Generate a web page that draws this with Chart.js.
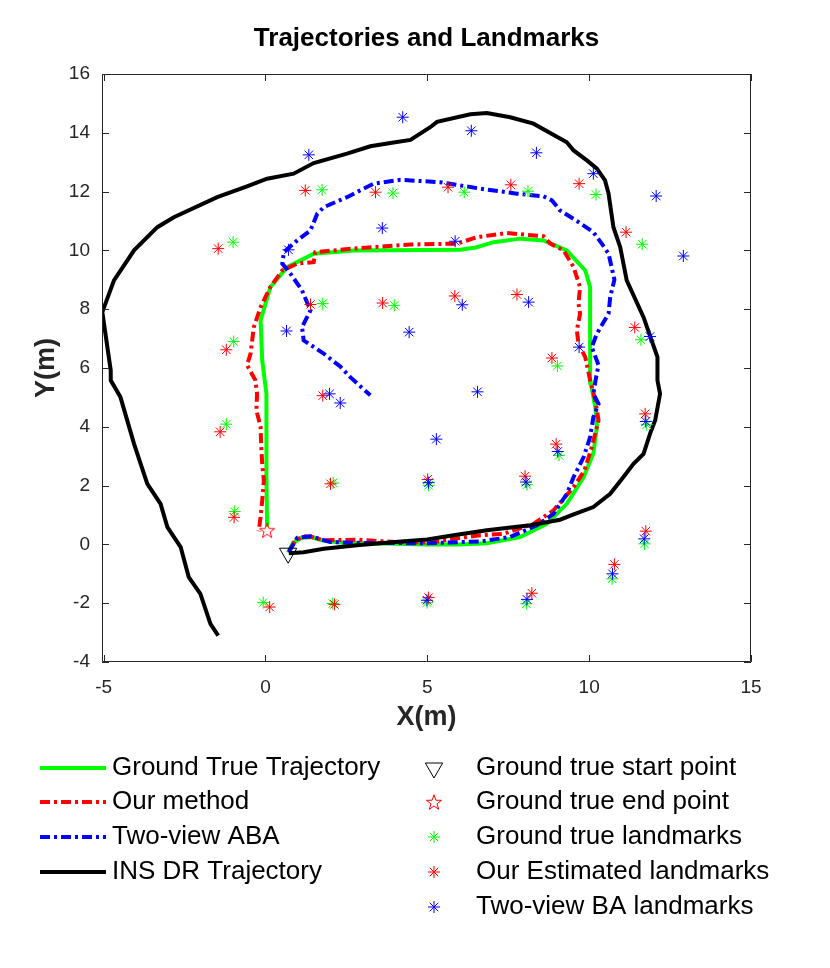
<!DOCTYPE html>
<html>
<head>
<meta charset="utf-8">
<title>Trajectories and Landmarks</title>
<script src="https://cdn.jsdelivr.net/npm/chart.js@4.4.0/dist/chart.umd.min.js"></script>
<style>
    html, body { margin: 0; padding: 0; background: #fff; }
    #wrap { width: 830px; height: 968px; }
</style>
</head>
<body>
<div id="wrap"><canvas id="trajChart" width="830" height="968"></canvas></div>
<script>
// axis ticks
const xTickValues = [-5, 0, 5, 10, 15];
const yTickValues = [-4, -2, 0, 2, 4, 6, 8, 10, 12, 14, 16];

// trajectories, [x, y] in metres
const gtTrajectory = [[0.7,-0.28],[0.85,0.05],[1.1,0.22],[1.4,0.25],[1.8,0.12],[2.5,0.05],[4,0.02],[5,0],[6,0],[6.84,0.04],[7.87,0.25],[8.69,0.7],[9.31,1.38],[9.83,2.29],[10.13,3.1],[10.24,4.0],[10.2,4.6],[10.05,5.5],[10.03,6.5],[10.03,8.75],[9.88,9.32],[9.31,10.0],[8.59,10.34],[7.87,10.4],[7.05,10.28],[6.5,10.1],[6.02,10.02],[2.73,10.0],[1.49,9.89],[0.67,9.43],[0.15,8.75],[-0.15,7.62],[-0.1,6.26],[0.03,5.12],[0.03,2.29],[0.05,0.6]];
const ourTrajectory = [[0.75,-0.2],[0.9,0.1],[1.15,0.28],[1.45,0.25],[1.8,0.14],[2.83,0.16],[4,0.08],[5.09,0.06],[5.81,0.19],[6.64,0.31],[7.36,0.36],[8.28,0.7],[8.9,1.16],[9.52,1.95],[9.85,2.5],[10.08,3.3],[10.24,4.0],[10.29,4.22],[10.19,4.9],[10.03,5.58],[9.88,6.37],[9.67,6.83],[9.62,7.28],[9.72,7.85],[9.67,8.19],[9.72,8.75],[9.52,9.43],[9.21,10.0],[8.8,10.23],[8.59,10.48],[7.46,10.59],[6.53,10.45],[5.92,10.23],[4.48,10.2],[2.9,10.08],[1.54,9.94],[1.49,9.6],[0.98,9.55],[0.52,9.32],[0.15,8.75],[-0.15,8.07],[-0.36,7.39],[-0.46,6.49],[-0.57,6.1],[-0.31,5.58],[-0.26,5.12],[-0.28,4.56],[-0.15,3.99],[-0.13,3.31],[-0.1,2.74],[-0.05,2.18],[-0.1,1.5],[-0.15,0.93],[-0.21,0.45]];
const abaTrajectory = [[0.72,-0.26],[0.98,0.22],[1.39,0.28],[2.0,0.08],[3,0.05],[5,0.04],[6.64,0.1],[7.56,0.25],[8.39,0.65],[8.9,1.04],[9.31,1.72],[9.52,2.29],[9.83,2.97],[10.03,3.65],[10.13,4.33],[10.29,4.78],[10.13,5.12],[10.2,5.6],[10.29,6.1],[10.08,6.71],[10.24,7.17],[10.6,7.85],[10.65,8.41],[10.78,9.0],[10.6,9.89],[10.39,10.23],[10.13,10.62],[9.62,11.0],[9.1,11.36],[8.85,11.7],[8.59,11.84],[7.77,11.93],[6.64,12.1],[5.4,12.32],[4.17,12.4],[3.34,12.27],[3.03,12.1],[2.52,11.81],[1.8,11.47],[1.6,11.25],[1.39,10.68],[0.98,10.34],[0.57,9.94],[0.52,9.55],[0.77,9.21],[1.13,8.64],[1.39,7.96],[1.13,7.39],[1.18,6.94],[1.8,6.49],[2.31,6.05],[2.62,5.69],[3.24,5.07]];
const insTrajectory = [[0.72,-0.3],[1.18,-0.27],[1.8,-0.15],[2.83,-0.03],[4,0.08],[5,0.17],[5.81,0.31],[6.84,0.48],[8.18,0.65],[9.1,0.84],[9.52,1.02],[10.13,1.27],[10.65,1.72],[11.06,2.29],[11.37,2.74],[11.68,3.08],[11.88,3.76],[12.04,4.22],[12.19,5.12],[12.11,5.58],[12.11,6.37],[11.93,6.94],[11.68,7.73],[11.16,8.98],[10.96,10.11],[10.75,10.79],[10.6,11.93],[10.49,12.38],[10.24,12.78],[9.93,13.06],[9.52,13.4],[9.31,13.68],[8.28,14.31],[7.56,14.53],[6.84,14.67],[6.33,14.63],[5.3,14.37],[5.09,14.19],[4.48,13.76],[3.86,13.65],[3.24,13.54],[2.52,13.29],[1.49,12.97],[0.87,12.61],[0.05,12.44],[-0.57,12.18],[-1.49,11.81],[-2.83,11.13],[-3.34,10.79],[-4.06,10.0],[-4.68,8.98],[-5.04,7.9],[-4.78,5.92],[-4.78,5.58],[-4.48,5.01],[-4.06,3.42],[-3.65,2.06],[-3.24,1.38],[-3.03,0.59],[-2.62,-0.09],[-2.37,-1.11],[-2.01,-1.68],[-1.70,-2.70],[-1.46,-3.1]];

const startPoint = [[0.7, -0.3]];
const endPoint = [[0.05, 0.48]];

// landmarks
const gtLandmarks = [[1.75,12.06],[3.94,11.95],[6.14,11.98],[8.11,12.01],[10.21,11.9],[-1.0,10.28],[11.64,10.21],[1.77,8.19],[3.98,8.13],[-0.98,6.9],[11.6,6.96],[9.02,6.07],[-1.21,4.09],[11.78,4.07],[9.07,3.03],[2.09,2.09],[5.04,2.01],[8.08,2.03],[-0.95,1.12],[11.71,0.02],[10.71,-1.17],[-0.07,-1.98],[2.08,-2.01],[4.99,-1.98],[8.06,-2.02]];
const ourLandmarks = [[1.23,12.04],[3.4,11.98],[5.64,12.15],[7.58,12.23],[9.69,12.27],[-1.46,10.06],[11.14,10.62],[1.39,8.16],[3.62,8.21],[5.85,8.45],[7.77,8.5],[-1.21,6.62],[11.41,7.38],[8.85,6.34],[1.77,5.06],[-1.4,3.83],[11.73,4.44],[8.98,3.41],[2.01,2.06],[5.01,2.21],[8.02,2.32],[-0.97,0.92],[11.75,0.45],[10.78,-0.68],[0.13,-2.13],[2.13,-2.04],[5.04,-1.81],[8.23,-1.66]];
const baLandmarks = [[4.24,14.53],[1.34,13.25],[6.36,14.07],[8.37,13.32],[10.13,12.61],[12.07,11.85],[3.61,10.76],[0.71,10.02],[5.86,10.31],[12.91,9.81],[0.65,7.26],[4.44,7.22],[6.08,8.15],[8.13,8.24],[11.88,7.07],[9.69,6.71],[1.98,5.12],[2.31,4.81],[6.55,5.19],[5.28,3.58],[9.03,3.16],[11.75,4.18],[5.04,2.1],[8.05,2.12],[11.7,0.19],[10.72,-1.0],[4.99,-1.9],[8.08,-1.87]];

const axisColor = '#262626';
const fontFamily = '"Liberation Sans", Arial, Helvetica, sans-serif';
const dashDot = [10, 4, 3, 4];

function toPoints(pairs) {
    return pairs.map(p => ({ x: p[0], y: p[1] }));
}

// outlined pentagram for the end point (no built-in style for it)
function makePentagram(size, color) {
    const c = document.createElement('canvas');
    c.width = size; c.height = size;
    const g = c.getContext('2d');
    const cx = size / 2, cy = size / 2 + 0.8, rOut = size / 2 - 1, rIn = rOut * 0.4;
    g.beginPath();
    for (let i = 0; i < 10; i++) {
        const r = i % 2 === 0 ? rOut : rIn;
        const a = -Math.PI / 2 + i * Math.PI / 5;
        const px = cx + r * Math.cos(a), py = cy + r * Math.sin(a);
        if (i === 0) g.moveTo(px, py); else g.lineTo(px, py);
    }
    g.closePath();
    g.strokeStyle = color;
    g.lineWidth = 1;
    g.stroke();
    return c;
}
const pentagram = makePentagram(18, '#ff0000');

function lineSet(label, data, color, dash, order) {
    return {
        label: label, data: toPoints(data), showLine: true, borderColor: color,
        backgroundColor: color, borderWidth: 4, borderDash: dash, pointRadius: 0,
        tension: 0, order: order, legendColumn: 0
    };
}
function markerSet(label, data, color, style, radius, rotation, order) {
    return {
        label: label, data: toPoints(data), showLine: false, borderColor: color,
        backgroundColor: 'rgba(0,0,0,0)', borderWidth: 1, pointStyle: style,
        pointRadius: radius, pointRotation: rotation, pointHoverRadius: radius, order: order, legendColumn: 1
    };
}

const datasets = [
    lineSet('Ground True Trajectory', gtTrajectory, '#00ff00', [], 9),
    lineSet('Our method', ourTrajectory, '#ff0000', dashDot, 8),
    lineSet('Two-view ABA', abaTrajectory, '#0000ff', dashDot, 7),
    lineSet('INS DR Trajectory', insTrajectory, '#000000', [], 6),
    markerSet('Ground true start point', startPoint, '#000000', 'triangle', 10, 180, 5),
    markerSet('Ground true end point', endPoint, '#ff0000', pentagram, 9, 0, 4),
    markerSet('Ground true landmarks', gtLandmarks, '#00ff00', 'star', 6, 0, 3),
    markerSet('Our Estimated landmarks', ourLandmarks, '#ff0000', 'star', 6, 0, 2),
    markerSet('Two-view BA landmarks', baLandmarks, '#0000ff', 'star', 6, 0, 1)
];

// MATLAB style box with inward ticks on every side
const boxPlugin = {
    id: 'boxPlugin',
    afterDatasetsDraw(chart) {
        const { ctx, chartArea: a, scales } = chart;
        const tick = 7;
        ctx.save();
        ctx.strokeStyle = axisColor;
        ctx.lineWidth = 1;
        ctx.beginPath();
        ctx.rect(a.left + 0.5, a.top + 0.5, a.right - a.left - 1, a.bottom - a.top - 1);
        xTickValues.forEach(v => {
            const px = Math.round(scales.x.getPixelForValue(v)) + 0.5;
            ctx.moveTo(px, a.bottom); ctx.lineTo(px, a.bottom - tick);
            ctx.moveTo(px, a.top); ctx.lineTo(px, a.top + tick);
        });
        yTickValues.forEach(v => {
            const py = Math.round(scales.y.getPixelForValue(v)) + 0.5;
            ctx.moveTo(a.left, py); ctx.lineTo(a.left + tick, py);
            ctx.moveTo(a.right, py); ctx.lineTo(a.right - tick, py);
        });
        ctx.stroke();
        ctx.restore();
    }
};

// two column legend under the axes
const legendPlugin = {
    id: 'twoColLegend',
    afterDraw(chart) {
        const ctx = chart.ctx;
        const rowY = [768, 802, 837, 872, 907];
        const cols = [
            { sampleX: 40, sampleW: 66, textX: 112 },
            { sampleX: 434, sampleW: 0, textX: 476 }
        ];
        const counters = [0, 0];
        ctx.save();
        ctx.font = '26px ' + fontFamily;
        ctx.textBaseline = 'middle';
        ctx.textAlign = 'left';
        chart.data.datasets.forEach(ds => {
            const col = cols[ds.legendColumn];
            const y = rowY[counters[ds.legendColumn]++];
            ctx.strokeStyle = ds.borderColor;
            ctx.lineWidth = ds.borderWidth;
            if (ds.legendColumn === 0) {
                ctx.setLineDash(ds.borderDash);
                ctx.beginPath();
                ctx.moveTo(col.sampleX, y);
                ctx.lineTo(col.sampleX + col.sampleW, y);
                ctx.stroke();
                ctx.setLineDash([]);
            } else {
                ctx.fillStyle = 'rgba(0,0,0,0)';
                Chart.helpers.drawPoint(ctx, {
                    pointStyle: ds.pointStyle, rotation: ds.pointRotation,
                    radius: ds.pointRadius, borderWidth: ds.borderWidth
                }, col.sampleX, y);
            }
            ctx.fillStyle = '#000';
            ctx.fillText(ds.label, col.textX, y);
        });
        ctx.restore();
    }
};

const ctx = document.getElementById('trajChart').getContext('2d');
const trajChart = new Chart(ctx, {
    type: 'scatter',
    data: { datasets: datasets },
    options: {
        responsive: false,
        animation: false,
        events: [],
        layout: { padding: { left: 0, right: 79, top: 0, bottom: 226 } },
        plugins: {
            legend: { display: false },
            tooltip: { enabled: false },
            title: {
                display: true,
                fullSize: false,
                text: 'Trajectories and Landmarks',
                color: '#000',
                font: { family: fontFamily, size: 26, weight: 'bold', lineHeight: 1.2 },
                padding: { top: 23, bottom: 19.8 }
            }
        },
        scales: {
            x: {
                type: 'linear', min: -5.05, max: 15,
                afterBuildTicks: s => { s.ticks = xTickValues.map(v => ({ value: v })); },
                afterFit: s => { s.height = 80; },
                grid: { display: false, drawTicks: false },
                border: { display: false },
                ticks: {
                    autoSkip: false, maxRotation: 0, padding: 14, color: axisColor,
                    font: { family: fontFamily, size: 19 }
                },
                title: {
                    display: true, text: 'X(m)', color: axisColor,
                    font: { family: fontFamily, size: 27, weight: 'bold', lineHeight: 1.2 },
                    padding: { top: 0, bottom: 8 }
                }
            },
            y: {
                type: 'linear', min: -4, max: 16,
                afterBuildTicks: s => { s.ticks = yTickValues.map(v => ({ value: v })); },
                afterFit: s => { s.width = 102; },
                grid: { display: false, drawTicks: false },
                border: { display: false },
                ticks: {
                    autoSkip: false, padding: 12, color: axisColor,
                    font: { family: fontFamily, size: 19 }
                },
                title: {
                    display: true, text: 'Y(m)', color: axisColor,
                    font: { family: fontFamily, size: 27, weight: 'bold', lineHeight: 1.2 },
                    padding: { top: 30, bottom: 0 }
                }
            }
        }
    },
    plugins: [boxPlugin, legendPlugin]
});
</script>
</body>
</html>
